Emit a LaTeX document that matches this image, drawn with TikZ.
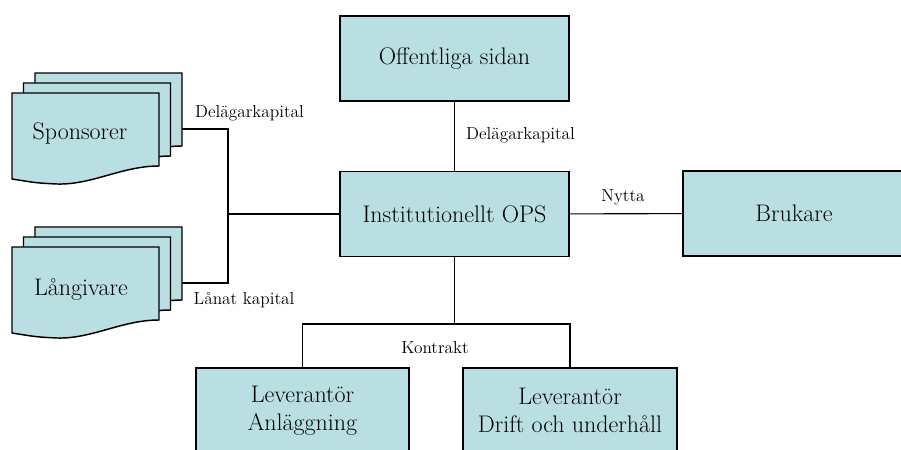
\documentclass[tikz,border=0pt]{standalone}
\usepackage{tikz}
\usetikzlibrary{positioning}
\definecolor{opsfill}{RGB}{186,223,226}
\tikzset{
  box/.style={draw, line width=1.1pt, fill=opsfill, minimum width=172pt, minimum height=64pt, font=\fontsize{18}{21}\selectfont, align=center},
  docline/.style={draw, line width=1.1pt, fill=opsfill},
  link/.style={line width=0.8pt},
  flow/.style={font=\fontsize{13}{15}\selectfont}
}
\begin{document}
\begin{tikzpicture}[x=0.75pt, y=-0.75pt]
\useasboundingbox (0,0) rectangle (901,450);
\clip (0,0) rectangle (901,450);
\foreach \top in {93,247}{
	\foreach \d in {2,1,0}{
		\pgfmathsetmacro{\xa}{12+11.5*\d}
		\pgfmathsetmacro{\ya}{\top-10*\d}
		\draw[docline] (\xa,\ya) -- ({\xa+147},\ya) -- ({\xa+147},{\ya+73}) .. controls ({\xa+110},{\ya+73}) and ({\xa+80},{\ya+92}) .. ({\xa+45},{\ya+91}) .. controls ({\xa+25},{\ya+90}) .. (\xa,{\ya+86}) -- cycle;
	}
}
\node[font=\fontsize{18}{21}\selectfont] (spons) at (80,133) {Sponsorer};
\node[font=\fontsize{18}{21}\selectfont] (lang) at (81,290) {Långivare};
\coordinate (spE) at (182,129);
\coordinate (laE) at (182,283);
\coordinate (jn) at (228,214);
\node[box] (off) at (454.5,58.5) {Offentliga sidan};
\node[box] (inst) at (454.5,214) {Institutionellt OPS};
\node[box, minimum width=166.5pt] (bruk) at (794,213.5) {Brukare};
\node[box, minimum width=160pt] (lev1) at (302.5,410.5) {Leverantör\\Anläggning};
\node[box, minimum width=160.5pt] (lev2) at (570,410.5) {Leverantör\\Drift och underhåll};
\coordinate (split) at (454.5,324);
\draw[link] (spE) -| (jn) |- (laE);
\draw[link] (jn) -- (inst.west);
\draw[link] (off) -- (inst);
\draw[link] (inst) -- (bruk);
\draw[link] (inst) -- (split);
\draw[link] (lev1.north) |- (split) -| (lev2.north);
\node[flow] (f1) at (249.5,113) {Delägarkapital};
\node[flow] (f2) at (244,300) {Lånat kapital};
\node[flow] (f3) at (520.5,135) {Delägarkapital};
\node[flow] (f4) at (623,197) {Nytta};
\node[flow] (f5) at (435,348) {Kontrakt};
\end{tikzpicture}
\end{document}
